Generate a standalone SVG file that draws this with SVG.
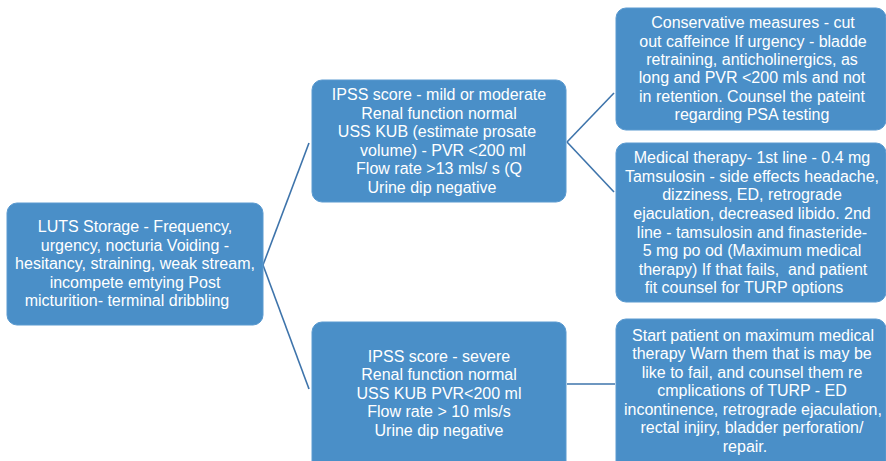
<svg xmlns="http://www.w3.org/2000/svg" width="886" height="461" viewBox="0 0 886 461">
<style>
.box{fill:#4a8fc8;stroke:#5a9ad0;stroke-width:1}
.t{font-family:"Liberation Sans",Arial,sans-serif;font-size:16px;fill:#ffffff;text-anchor:middle;white-space:pre}
.c{stroke:#3e74ab;stroke-width:1.6;fill:none}
</style>
<rect width="886" height="461" fill="#ffffff"/>
<g id="connectors">
<line class="c" x1="263" y1="265" x2="309" y2="143"/>
<line class="c" x1="263" y1="265" x2="309" y2="389"/>
<line class="c" x1="567" y1="142" x2="614" y2="93"/>
<line class="c" x1="567" y1="142" x2="614" y2="192"/>
<line class="c" x1="567" y1="384" x2="615" y2="384"/>
</g>
<g id="luts">
<rect class="box" x="7" y="203" width="256" height="122" rx="10"/>
<text class="t"><tspan x="135" y="232">LUTS Storage - Frequency,</tspan><tspan x="135" y="250.5">urgency, nocturia Voiding -</tspan><tspan x="135" y="269">hesitancy, straining, weak stream,</tspan><tspan x="135" y="287.5">incompete emtying Post</tspan><tspan x="127" y="306">micturition- terminal dribbling</tspan></text>
</g>
<g id="ipss-mild">
<rect class="box" x="312" y="80" width="254" height="122" rx="10"/>
<text class="t"><tspan x="439" y="100">IPSS score - mild or moderate</tspan><tspan x="439" y="118.5">Renal function normal</tspan><tspan x="437" y="137">USS KUB (estimate prosate</tspan><tspan x="443" y="155.5">volume) - PVR &lt;200 ml</tspan><tspan x="439" y="174">Flow rate &gt;13 mls/ s (Q</tspan><tspan x="432" y="192.5">Urine dip negative</tspan></text>
</g>
<g id="ipss-severe">
<rect class="box" x="312" y="322" width="254" height="150" rx="10"/>
<text class="t"><tspan x="439" y="361.7">IPSS score - severe</tspan><tspan x="439" y="380.2">Renal function normal</tspan><tspan x="439" y="398.7">USS KUB PVR&lt;200 ml</tspan><tspan x="439" y="417.2">Flow rate &gt; 10 mls/s</tspan><tspan x="439" y="435.7">Urine dip negative</tspan></text>
</g>
<g id="conservative">
<rect class="box" x="616" y="8" width="270" height="122" rx="10"/>
<text class="t"><tspan x="753" y="28.3">Conservative measures - cut</tspan><tspan x="753" y="46.6">out caffeince If urgency - bladde</tspan><tspan x="752" y="65">retraining, anticholinergics, as</tspan><tspan x="752" y="83.3">long and PVR &lt;200 mls and not</tspan><tspan x="752" y="101.6">in retention. Counsel the pateint</tspan><tspan x="752" y="120">regarding PSA testing</tspan></text>
</g>
<g id="medical">
<rect class="box" x="616" y="143" width="270" height="159" rx="10"/>
<text class="t"><tspan x="752" y="163.3">Medical therapy- 1st line - 0.4 mg</tspan><tspan x="752" y="181.9">Tamsulosin - side effects headache,</tspan><tspan x="752" y="200.4">dizziness, ED, retrograde</tspan><tspan x="752" y="219">ejaculation, decreased libido. 2nd</tspan><tspan x="752" y="237.6">line - tamsulosin and finasteride-</tspan><tspan x="752" y="256.1">5 mg po od (Maximum medical</tspan><tspan x="753" y="274.7">therapy) If that fails,  and patient</tspan><tspan x="744" y="293.3">fit counsel for TURP options</tspan></text>
</g>
<g id="maximum">
<rect class="box" x="616" y="319" width="270" height="155" rx="10"/>
<text class="t"><tspan x="753" y="340.7">Start patient on maximum medical</tspan><tspan x="752" y="359.2">therapy Warn them that is may be</tspan><tspan x="752" y="377.7">like to fail, and counsel them re</tspan><tspan x="752" y="396.2">cmplications of TURP - ED</tspan><tspan x="753" y="414.7">incontinence, retrograde ejaculation,</tspan><tspan x="752" y="433.2">rectal injiry, bladder perforation/</tspan><tspan x="745" y="451.7">repair.</tspan></text>
</g>
</svg>
